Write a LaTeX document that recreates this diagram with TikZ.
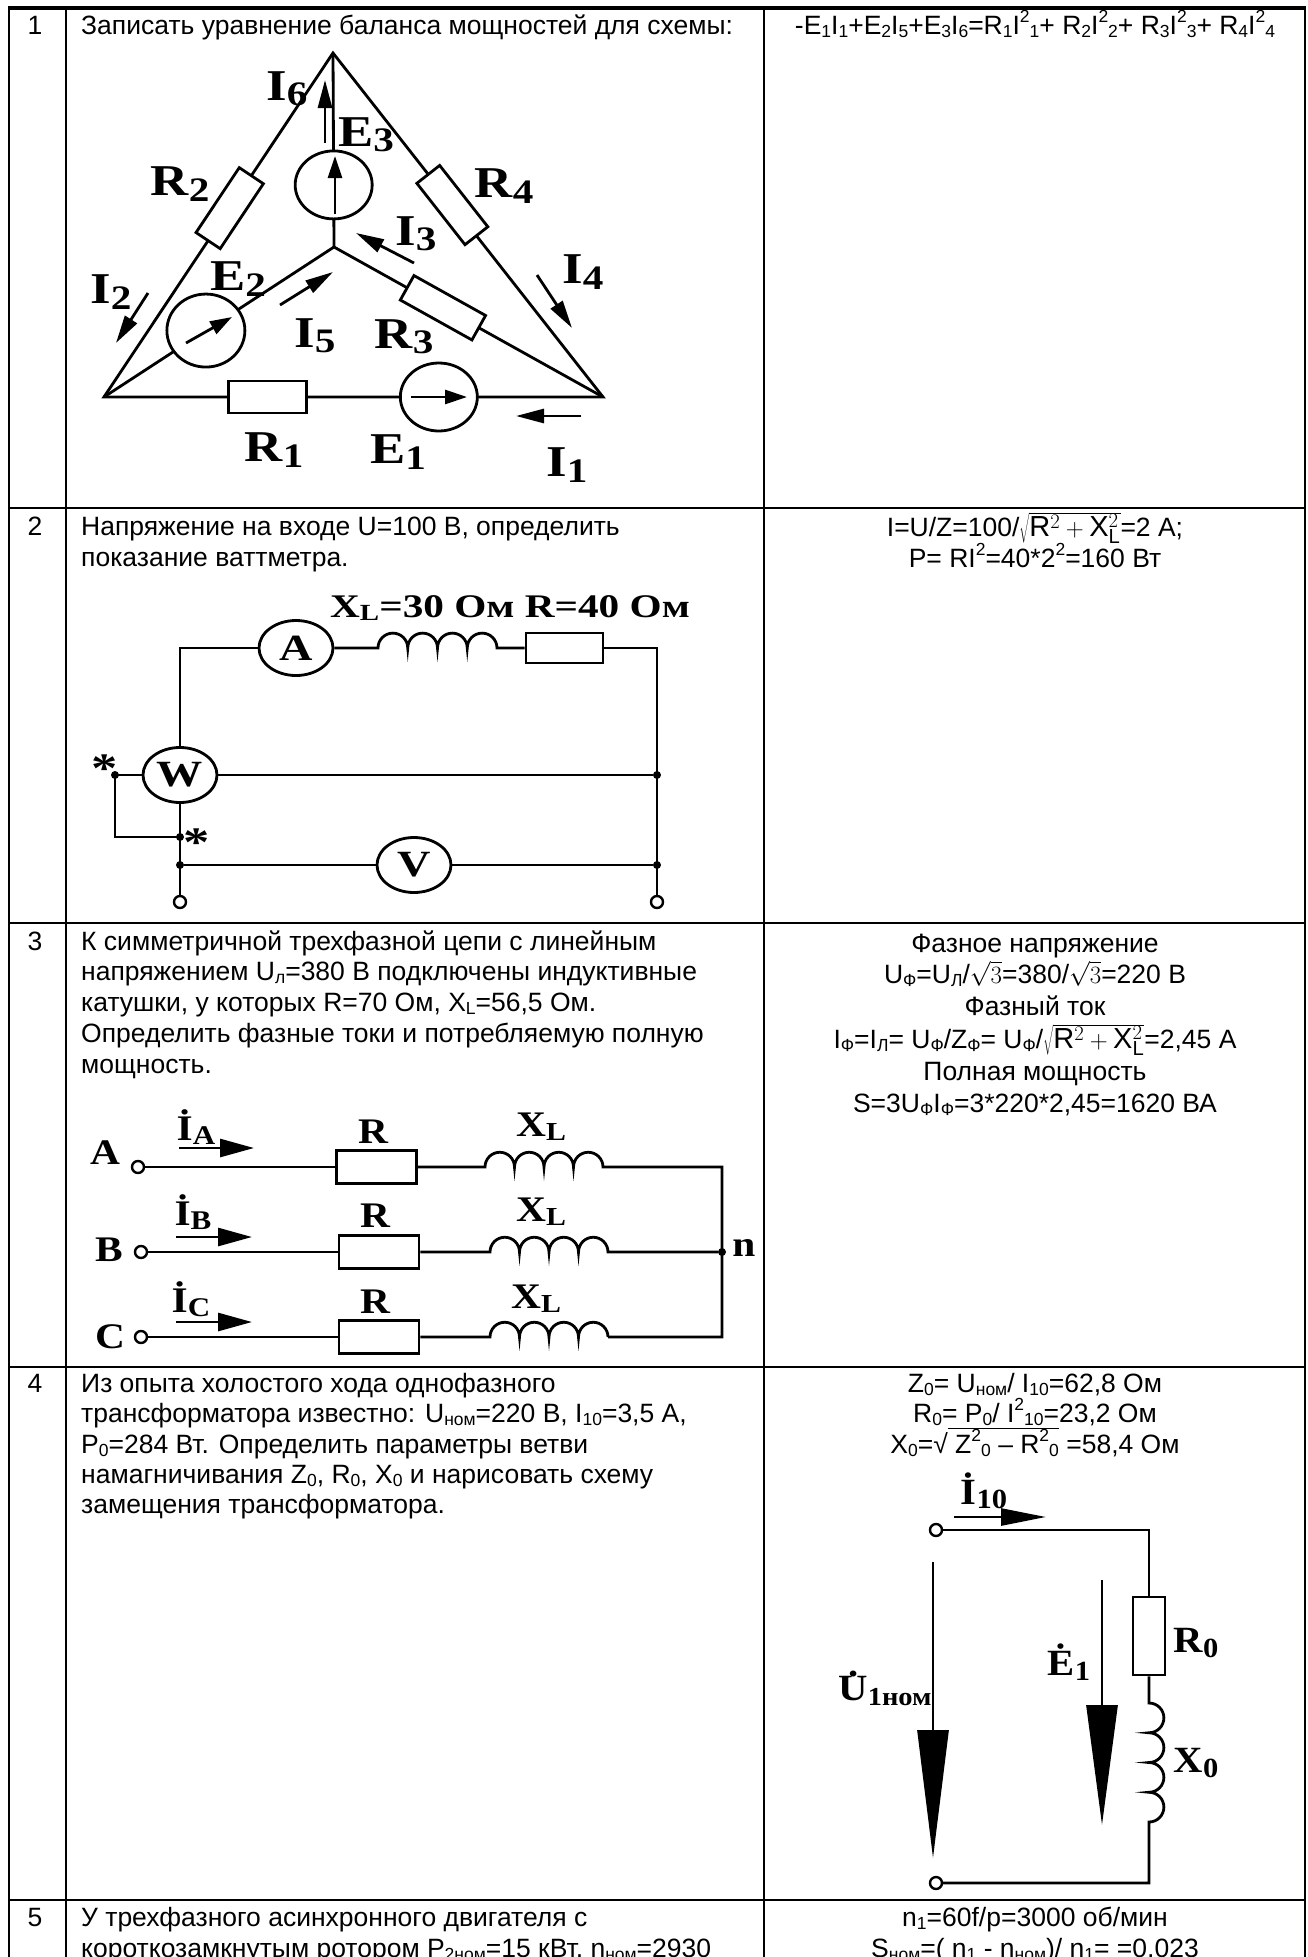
\documentclass[tikz,border=0pt]{standalone}
\usepackage{graphicx}
\usepackage{fontspec}
\setmainfont{Liberation Sans}
\newfontfamily\serA[FakeStretch=1.2]{Liberation Serif}
\newfontfamily\serB[FakeStretch=1.25]{Liberation Serif}
\newfontfamily\serC[FakeStretch=1.15]{Liberation Serif}
\newfontfamily\serD[FakeStretch=1.1]{Liberation Serif}
\usetikzlibrary{arrows.meta,shapes.geometric}
\newcommand\mysub[1]{\raisebox{-0.15em}{\fontsize{17.5}{17.5}\selectfont #1}}
\newcommand\mysup[1]{\raisebox{0.42em}{\fontsize{17.5}{17.5}\selectfont #1}}
\newcommand\bsub[2][0.78]{\raisebox{-0.12em}{\scalebox{#1}{#2}}}
\newcommand\dotU{\leavevmode\setbox0\hbox{U}\rlap{\hbox to\wd0{\hss\raisebox{0.66em}{.}\hss}}\box0}
\newcommand\mth[1]{{\fontsize{29}{31}\selectfont$#1$}}
\begin{document}
\begin{tikzpicture}[x=1pt,y=-1pt,
  grid/.style={line width=2.2pt},
  wire/.style={line width=2.8pt},
  tx/.style={anchor=base west,inner sep=0pt,font=\fontsize{26.5}{31}\selectfont},
  tc/.style={anchor=base,inner sep=0pt,font=\fontsize{26.5}{31}\selectfont},
  labA/.style={inner sep=0pt,font=\serA\bfseries\fontsize{44}{44}\selectfont},
  labB/.style={inner sep=0pt,font=\serB\bfseries\fontsize{33}{33}\selectfont},
  labC/.style={inner sep=0pt,font=\serC\bfseries\fontsize{36}{36}\selectfont},
  labD/.style={inner sep=0pt,font=\serD\bfseries\fontsize{37}{37}\selectfont},
  resA/.style={draw,fill=white,line width=2.8pt,minimum width=78pt,minimum height=29pt,inner sep=0pt},
  srcA/.style={ellipse,draw,fill=white,line width=2.8pt,minimum width=77pt,minimum height=68pt,inner sep=0pt},
  curA/.style={line width=2.8pt,-{Triangle[length=28pt,width=14pt]}},
  inA/.style={line width=2.8pt,-{Triangle[length=22pt,width=14pt]}},
  meterB/.style={ellipse,draw,fill=white,line width=2.8pt,minimum width=74pt,minimum height=55pt,inner sep=0pt,font=\serB\bfseries\fontsize{37}{37}\selectfont},
  term/.style={circle,draw,fill=white,line width=2.4pt,minimum size=12pt,inner sep=0pt},
  dot/.style={circle,fill,minimum size=8pt,inner sep=0pt},
  cur3/.style={line width=2.8pt,-{Triangle[length=34pt,width=18pt]}},
  bigarr/.style={line width=2.8pt,-{Triangle[length=#1pt,width=31pt]}}
]
\useasboundingbox (0,0) rectangle (1307,1957);
\fill[white] (0,0) rectangle (1307,1957);

% ---------------- table grid
\draw[grid] (9,6) -- (9,1960);
\draw[grid] (66,6) -- (66,1960);
\draw[grid] (764,6) -- (764,1960);
\draw[grid] (1305,6) -- (1305,1960);
\draw[line width=3.5pt] (8,8) -- (1306,8);
\draw[grid] (8,508) -- (1306,508);
\draw[grid] (8,923) -- (1306,923);
\draw[grid] (8,1367) -- (1306,1367);
\draw[grid] (8,1900) -- (1306,1900);

% ---------------- row numbers
\node[tc] (num1) at (35,34) {1};
\node[tc] (num2) at (35,535) {2};
\node[tc] (num3) at (35,950) {3};
\node[tc] (num4) at (35,1392) {4};
\node[tc] (num5) at (35,1926) {5};

% ---------------- row 1 texts
\node[tx] (q1) at (81,34) {Записать уравнение баланса мощностей для схемы:};
\node[tc] (a1) at (1035,34) {-E\mysub{1}I\mysub{1}+E\mysub{2}I\mysub{5}+E\mysub{3}I\mysub{6}=R\mysub{1}I\mysup{2}\mysub{1}+ R\mysub{2}I\mysup{2}\mysub{2}+ R\mysub{3}I\mysup{2}\mysub{3}+ R\mysub{4}I\mysup{2}\mysub{4}};

% ---------------- row 1 circuit
\coordinate (t1) at (333,53);
\coordinate (l1) at (104,397);
\coordinate (r1) at (603,397);
\coordinate (n1) at (334,247);
\draw[wire,line join=miter] (l1) -- node[resA,sloped,pos=0.549] (rr2) {} (t1)
   -- node[resA,sloped,pos=0.442] (rr4) {} (r1)
   -- node[srcA,pos=0.329] (ee1) {} node[resA,pos=0.673,minimum height=32pt] (rr1) {} (l1) -- cycle;
\draw[wire] (l1) -- node[srcA,pos=0.443,minimum width=78pt,minimum height=73pt] (ee2) {} (n1);
\draw[wire] (n1) -- node[resA,sloped,pos=0.405,minimum width=82pt,minimum height=28pt] (rr3) {} (r1);
\draw[wire] (t1) -- node[srcA,pos=0.68] (ee3) {} (n1);
% arrows inside sources
\draw[inA] (335,214) -- (335,156);
\draw[inA] (411,397) -- (467,397);
\draw[inA] (186,343) -- (232,317);
% current arrows
\draw[curA] (325,143) -- (325,80);
\draw[curA] (148,293) -- (116,343);
\draw[curA] (280,305) -- (333,272);
\draw[curA] (414,263) -- (356,233);
\draw[curA] (537,275) -- (572,328);
\draw[curA] (581,416) -- (516,416);
% labels
\node[labA] (li6) at (287,89) {I\bsub{6}};
\node[labA] (le3) at (366,135) {E\bsub{3}};
\node[labA] (lr2) at (180,184) {R\bsub{2}};
\node[labA] (lr4) at (504,186) {R\bsub{4}};
\node[labA] (li3) at (416,234) {I\bsub{3}};
\node[labA] (li4) at (583,272) {I\bsub{4}};
\node[labA] (li2) at (111,292) {I\bsub{2}};
\node[labA] (le2) at (238,279) {E\bsub{2}};
\node[labA] (li5) at (315,336) {I\bsub{5}};
\node[labA] (lr3) at (404,337) {R\bsub{3}};
\node[labA] (lr1) at (274,450) {R\bsub{1}};
\node[labA] (le1) at (398,452) {E\bsub{1}};
\node[labA] (li1) at (567,465) {I\bsub{1}};

% ---------------- row 2 texts
\node[tx] (q2a) at (81,535) {Напряжение на входе U=100 В, определить};
\node[tx] (q2b) at (81,566) {показание ваттметра.};
\node[tc] (a2a) at (1035,536) {I=U/Z=100/\mth{\sqrt{\mathrm{R}^2+\mathrm{X}_\mathrm{L}^2}}=2 A;};
\node[tc] (a2b) at (1035,567) {P= RI\mysup{2}=40*2\mysup{2}=160 Вт};

% ---------------- row 2 circuit
\node[labB,anchor=base west] (lxl) at (330,617) {X\bsub[0.7]{L}=30 Ом R=40 Ом};
\node[meterB] (am) at (296,648) {A};
\node[meterB] (wm) at (180,775) {W};
\node[meterB] (vm) at (414,865) {V};
\node[resA,minimum width=77pt,minimum height=30pt] (rb) at (564.5,648) {};
\node[term] (ta2) at (180,902) {};
\node[term] (tb2) at (657,902) {};
\node[dot] (d1) at (657,775) {};
\node[dot] (d2) at (657,865) {};
\node[dot] (d3) at (180,865) {};
\node[dot] (d4) at (180,837) {};
\node[dot] (d5) at (115,775) {};
\draw[wire,line join=miter] (wm.north) -- (180,648) -- (am.west);
\draw[wire] (am.east) -- (378,648)
  arc[start angle=180,end angle=360,radius=14.875]
  arc[start angle=180,end angle=360,radius=14.875]
  arc[start angle=180,end angle=360,radius=14.875]
  arc[start angle=180,end angle=360,radius=14.875] -- (rb.west);
\draw[wire,line join=miter] (rb.east) -- (657,648) -- (tb2.north);
\draw[wire] (wm.east) -- (d1);
\draw[wire] (wm.south) -- (ta2.north);
\draw[wire,line join=miter] (wm.west) -- (d5.center) -- (115,837) -- (d4.center);
\draw[wire] (d3) -- (vm.west);
\draw[wire] (vm.east) -- (d2);
\node[labB,font=\serB\bfseries\fontsize{42}{42}\selectfont] (as1) at (105,769) {*};
\node[labB,font=\serB\bfseries\fontsize{42}{42}\selectfont] (as2) at (197,843) {*};

% ---------------- row 3 texts
\node[tx] (q3a) at (81,950) {К симметричной трехфазной цепи с линейным};
\node[tx] (q3b) at (81,980) {напряжением U\mysub{л}=380 В подключены индуктивные};
\node[tx] (q3c) at (81,1011) {катушки, у которых R=70 Ом, X\mysub{L}=56,5 Ом.};
\node[tx] (q3d) at (81,1042) {Определить фазные токи и потребляемую полную};
\node[tx] (q3e) at (81,1073) {мощность.};
\node[tc] (a3a) at (1035,952) {Фазное напряжение};
\node[tc] (a3b) at (1035,983) {U\mysub{Ф}=U\mysub{Л}/\mth{\sqrt{3}}=380/\mth{\sqrt{3}}=220 В};
\node[tc] (a3c) at (1035,1015) {Фазный ток};
\node[tc] (a3d) at (1035,1048) {I\mysub{Ф}=I\mysub{Л}= U\mysub{Ф}/Z\mysub{Ф}= U\mysub{Ф}/\mth{\sqrt{\mathrm{R}^2+\mathrm{X}_\mathrm{L}^2}}=2,45 A};
\node[tc] (a3e) at (1035,1080) {Полная мощность};
\node[tc] (a3f) at (1035,1112) {S=3U\mysub{Ф}I\mysub{Ф}=3*220*2,45=1620 ВА};

% ---------------- row 3 circuit
\node[term] (ta3) at (138,1167) {};
\node[term] (tb3) at (141,1252) {};
\node[term] (tc3) at (141,1337) {};
\node[resA,minimum width=80pt,minimum height=33pt] (ra3) at (376.5,1167) {};
\node[resA,minimum width=80pt,minimum height=33pt] (rb3) at (379,1252) {};
\node[resA,minimum width=80pt,minimum height=33pt] (rc3) at (379,1337) {};
\node[dot] (dn) at (722,1252) {};
\draw[wire] (ta3.east) -- (ra3.west);
\draw[wire] (tb3.east) -- (rb3.west);
\draw[wire] (tc3.east) -- (rc3.west);
\draw[wire,line join=miter] (ra3.east) -- (485,1167)
  arc[start angle=180,end angle=360,radius=14.75]
  arc[start angle=180,end angle=360,radius=14.75]
  arc[start angle=180,end angle=360,radius=14.75]
  arc[start angle=180,end angle=360,radius=14.75] -- (722,1167) -- (722,1337) -- (608,1337);
\draw[wire] (rb3.east) -- (490,1252)
  arc[start angle=180,end angle=360,radius=14.75]
  arc[start angle=180,end angle=360,radius=14.75]
  arc[start angle=180,end angle=360,radius=14.75]
  arc[start angle=180,end angle=360,radius=14.75] -- (dn);
\draw[wire] (rc3.east) -- (490,1337)
  arc[start angle=180,end angle=360,radius=14.75]
  arc[start angle=180,end angle=360,radius=14.75]
  arc[start angle=180,end angle=360,radius=14.75]
  arc[start angle=180,end angle=360,radius=14.75];
\draw[cur3] (179,1148) -- (254,1148);
\draw[cur3] (176,1237) -- (252,1237);
\draw[cur3] (176,1322) -- (252,1322);
\node[labC] (lia) at (196,1127) {İ\bsub[0.75]{A}};
\node[labC] (lib) at (193,1212) {İ\bsub[0.75]{B}};
\node[labC] (lic) at (191,1299) {İ\bsub[0.75]{C}};
\node[labC] (lra) at (373,1132) {R};
\node[labC] (lrb) at (375,1216) {R};
\node[labC] (lrc) at (375,1302) {R};
\node[labC] (lxa) at (541,1127) {X\bsub[0.72]{L}};
\node[labC] (lxb) at (541,1212) {X\bsub[0.72]{L}};
\node[labC] (lxc) at (536,1299) {X\bsub[0.72]{L}};
\node[labC] (lA) at (105,1153) {A};
\node[labC] (lB) at (109,1250) {B};
\node[labC] (lC) at (110,1337) {C};
\node[labC] (ln) at (744,1248) {n};

% ---------------- row 4 texts
\node[tx] (q4a) at (81,1392) {Из опыта холостого хода однофазного};
\node[tx] (q4b) at (81,1422) {трансформатора известно: U\mysub{ном}=220 В, I\mysub{10}=3,5 А,};
\node[tx] (q4c) at (81,1453) {P\mysub{0}=284 Вт. Определить параметры ветви};
\node[tx] (q4d) at (81,1483) {намагничивания Z\mysub{0}, R\mysub{0}, X\mysub{0} и нарисовать схему};
\node[tx] (q4e) at (81,1513) {замещения трансформатора.};
\node[tc] (a4a) at (1035,1392) {Z\mysub{0}= U\mysub{ном}/ I\mysub{10}=62,8 Ом};
\node[tc] (a4b) at (1035,1422) {R\mysub{0}= P\mysub{0}/ I\mysup{2}\mysub{10}=23,2 Ом};
\node[tc] (a4c) at (1035,1453) {X\mysub{0}=√$\overline{\mbox{ Z\mysup{2}\mysub{0} – R\mysup{2}\mysub{0}}}$ =58,4 Ом};

% ---------------- row 4 circuit
\node[term] (t4a) at (936,1530) {};
\node[term] (t4b) at (936,1883) {};
\node[resA,minimum width=32pt,minimum height=78pt] (r4) at (1149,1636) {};
\draw[wire,line join=miter] (t4a.east) -- (1149,1530) -- (r4.north);
\draw[wire,line join=miter] (r4.south) -- (1149,1703)
  arc[start angle=-90,end angle=90,radius=14.875]
  arc[start angle=-90,end angle=90,radius=14.875]
  arc[start angle=-90,end angle=90,radius=14.875]
  arc[start angle=-90,end angle=90,radius=14.875] -- (1149,1883) -- (t4b.east);
\draw[line width=2.8pt,-{Triangle[length=45pt,width=17pt]}] (954,1517) -- (1046,1517);
\draw[bigarr=128] (933,1562) -- (933,1858);
\draw[bigarr=120] (1102,1580) -- (1102,1825);
\node[labD] (li10) at (984,1491) {İ\bsub[0.75]{10}};
\node[labD] (le1b) at (1069,1662) {Ė\bsub[0.75]{1}};
\node[labD] (lu1) at (885,1688) {\dotU\bsub[0.7]{1ном}};
\node[labD] (lr0) at (1196,1643) {R\bsub[0.75]{0}};
\node[labD] (lx0) at (1196,1763) {X\bsub[0.75]{0}};

% ---------------- row 5 texts
\node[tx] (q5a) at (81,1926) {У трехфазного асинхронного двигателя с};
\node[tx] (q5b) at (81,1957) {короткозамкнутым ротором P\mysub{2ном}=15 кВт, n\mysub{ном}=2930};
\node[tc] (a5a) at (1035,1926) {n\mysub{1}=60f/p=3000 об/мин};
\node[tc] (a5b) at (1035,1957) {S\mysub{ном}=( n\mysub{1} - n\mysub{ном})/ n\mysub{1}= =0,023};
\end{tikzpicture}
\end{document}
